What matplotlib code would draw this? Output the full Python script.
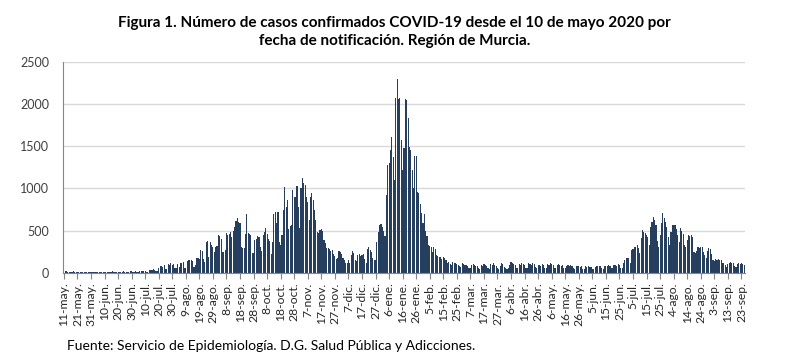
import matplotlib
matplotlib.use("Agg")
import matplotlib.pyplot as plt
import numpy as np

# casos diarios desde el 11-may-2020 (lunes), una fila por semana
casos = [
    18, 20, 15, 12, 14, 6, 5,
    15, 12, 10, 14, 11, 4, 3,
    10, 14, 12, 9, 13, 5, 4,
    12, 10, 14, 11, 9, 3, 5,
    13, 11, 9, 12, 10, 6, 4,
    12, 15, 10, 13, 11, 5, 6,
    14, 12, 16, 11, 13, 7, 5,
    15, 18, 14, 12, 16, 8, 6,
    20, 17, 22, 19, 25, 12, 9,
    35, 30, 28, 40, 33, 18, 15,
    60, 75, 85, 70, 90, 45, 40,
    100, 95, 110, 90, 105, 60, 55,
    100, 70, 120, 115, 125, 55, 60,
    140, 150, 145, 155, 140, 70, 90,
    170, 180, 165, 270, 260, 160, 130,
    360, 370, 190, 360, 330, 310, 250,
    300, 320, 450, 440, 400, 250, 240,
    270, 470, 450, 460, 480, 420, 490,
    540, 610, 650, 600, 590, 300, 290,
    290, 460, 700, 470, 460, 450, 230,
    230, 390, 400, 440, 420, 300, 260,
    450, 480, 530, 460, 400, 380, 220,
    360, 700, 720, 590, 720, 360, 330,
    450, 740, 1020, 780, 860, 520, 550,
    560, 980, 900, 900, 1030, 780, 525,
    1000, 1120, 1060, 1040, 900, 840, 620,
    900, 940, 860, 740, 625, 480, 470,
    505, 520, 500, 390, 350, 290, 290,
    280, 260, 270, 225, 200, 165, 170,
    260, 240, 225, 180, 150, 120, 110,
    150, 120, 215, 260, 230, 150, 140,
    215, 220, 200, 210, 220, 165, 120,
    280, 300, 270, 250, 180, 145, 150,
    360, 480, 560, 580, 540, 500, 430,
    920, 1280, 1300, 1450, 1610, 1375, 1100,
    2070, 2300, 2060, 2070, 1570, 1220, 1480,
    2060, 2050, 1830, 1490, 1450, 1220, 1000,
    1380, 1380, 960, 950, 820, 705, 585,
    700, 490, 440, 330, 320, 300, 250,
    310, 280, 210, 200, 190, 190, 160,
    190, 170, 150, 110, 130, 100, 90,
    130, 120, 110, 100, 95, 80, 70,
    110, 100, 95, 90, 85, 60, 50,
    95, 105, 90, 85, 80, 55, 45,
    90, 80, 100, 95, 85, 50, 45,
    100, 95, 110, 90, 80, 55, 40,
    85, 120, 105, 70, 60, 45, 50,
    90, 130, 110, 100, 95, 60, 55,
    100, 95, 110, 105, 90, 60, 50,
    110, 100, 95, 120, 105, 65, 55,
    95, 90, 85, 100, 90, 55, 50,
    100, 95, 110, 105, 90, 60, 55,
    95, 100, 90, 85, 95, 55, 50,
    85, 90, 80, 95, 85, 50, 45,
    80, 75, 85, 70, 75, 45, 40,
    75, 70, 80, 65, 70, 45, 40,
    70, 75, 80, 85, 75, 50, 45,
    80, 85, 75, 90, 85, 55, 50,
    90, 95, 85, 100, 90, 60, 55,
    110, 150, 170, 180, 170, 120, 270,
    280, 300, 310, 330, 290, 230, 410,
    505, 480, 465, 450, 420, 330, 545,
    600, 665, 625, 560, 370, 300, 450,
    585, 705, 645, 600, 540, 420, 330,
    480, 565, 570, 560, 520, 445, 360,
    525, 500, 460, 330, 300, 390, 445,
    440, 445, 420, 250, 230, 260, 300,
    290, 310, 300, 250, 210, 180, 260,
    290, 280, 220, 150, 140, 160, 150,
    160, 150, 145, 120, 110, 90, 70,
    100, 110, 130, 120, 115, 80, 70,
    100, 110, 105, 115, 100, 90,
]

etiquetas = [
    "11-may.", "21-may.", "31-may.", "10-jun.", "20-jun.", "30-jun.", "10-jul.",
    "20-jul.", "30-jul.", "9-ago.", "19-ago.", "29-ago.", "8-sep.", "18-sep.",
    "28-sep.", "8-oct.", "18-oct.", "28-oct.", "7-nov.", "17-nov.", "27-nov.",
    "7-dic.", "17-dic.", "27-dic.", "6-ene.", "16-ene.", "26-ene.", "5-feb.",
    "15-feb.", "25-feb.", "7-mar.", "17-mar.", "27-mar.", "6-abr.", "16-abr.",
    "26-abr.", "6-may.", "16-may.", "26-may.", "5-jun.", "15-jun.", "25-jun.",
    "5-jul.", "15-jul.", "25-jul.", "4-ago.", "14-ago.", "24-ago.", "3-sep.",
    "13-sep.", "23-sep.",
]

fuente = "Lato"

fig = plt.figure(figsize=(8, 3.6), dpi=100)
ax = fig.add_axes([0.079, 0.2425, 0.852, 0.586])

dias = np.arange(len(casos))
ax.bar(dias, casos, width=0.82, color="#273f5f", edgecolor="none", zorder=2)

ax.set_xlim(-0.5, len(casos) - 0.5)
ax.set_ylim(0, 2500)
ax.set_yticks(range(0, 2501, 500))
ax.yaxis.grid(True, color="#d9d9d9", linewidth=1.0, zorder=0)
ax.tick_params(axis="y", length=0, labelsize=9, colors="#404040", pad=10)
for t in ax.get_yticklabels():
    t.set_family(fuente)

ax.set_xticks(np.arange(len(etiquetas)) * 10)
ax.set_xticklabels(etiquetas, rotation=90, fontsize=8.7,
                   family=fuente, color="#262626")
ax.tick_params(axis="x", length=4, color="#868686", pad=3)

for s in ["top", "right"]:
    ax.spines[s].set_visible(False)
ax.spines["left"].set_color("#868686")
ax.spines["bottom"].set_color("#868686")

fig.text(0.493, 0.91, "Figura 1. Número de casos confirmados COVID-19 desde el 10 de mayo 2020 por\n"
         "fecha de notificación. Región de Murcia.",
         ha="center", va="center", fontsize=11, fontweight="bold",
         family=fuente, linespacing=1.35)

fig.text(0.084, 0.04, "Fuente: Servicio de Epidemiología. D.G. Salud Pública y Adicciones.",
         ha="left", va="center", fontsize=10, family=fuente)

fig.savefig("out.png", dpi=100)
